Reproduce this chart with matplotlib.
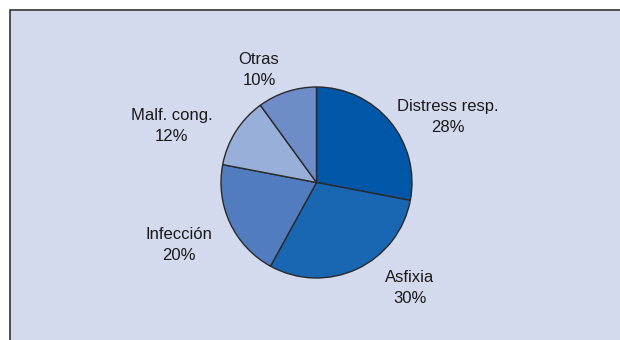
import matplotlib
matplotlib.use("Agg")
import matplotlib.pyplot as plt
from matplotlib.patches import Rectangle

categories = ["Distress resp.", "Asfixia", "Infección", "Malf. cong.", "Otras"]
values = [28, 30, 20, 12, 10]
colors = ["#0057A8", "#1966B2", "#527CC0", "#98B0D9", "#6E8CC8"]
# label anchor positions (pixels, from top-left of figure)
label_pos = [(448, 117), (410, 288), (179, 245), (172, 126), (259, 70)]

W, H = 620, 340
fig = plt.figure(figsize=(W / 100, H / 100), dpi=100)
fig.patch.set_facecolor("white")
fig.patches.append(Rectangle((9.5 / W, -0.05), 1.1, (H - 9.5) / H + 0.05,
                             transform=fig.transFigure, facecolor="#D4DAED",
                             edgecolor="#3c3c3c", linewidth=1.25, zorder=-10))

ax = fig.add_axes([0, 0, 1, 1], zorder=5)
ax.set_xlim(0, W)
ax.set_ylim(0, H)
ax.set_aspect("equal")

cx, cy, r = 316.5, H - 182.5, 95.5
ax.pie(values, colors=colors, startangle=90, counterclock=False,
       center=(cx, cy), radius=r, frame=True,
       wedgeprops=dict(edgecolor="#2a2a2a", linewidth=1.0))
ax.set_xlim(0, W)
ax.set_ylim(0, H)
ax.axis("off")

for name, v, (px, py) in zip(categories, values, label_pos):
    ax.text(px, H - py, f"{name}\n{v}%", ha="center", va="center",
            fontsize=12, family="Liberation Sans", color="#1a1a1a",
            linespacing=1.42)

fig.savefig("out.png", dpi=100)
